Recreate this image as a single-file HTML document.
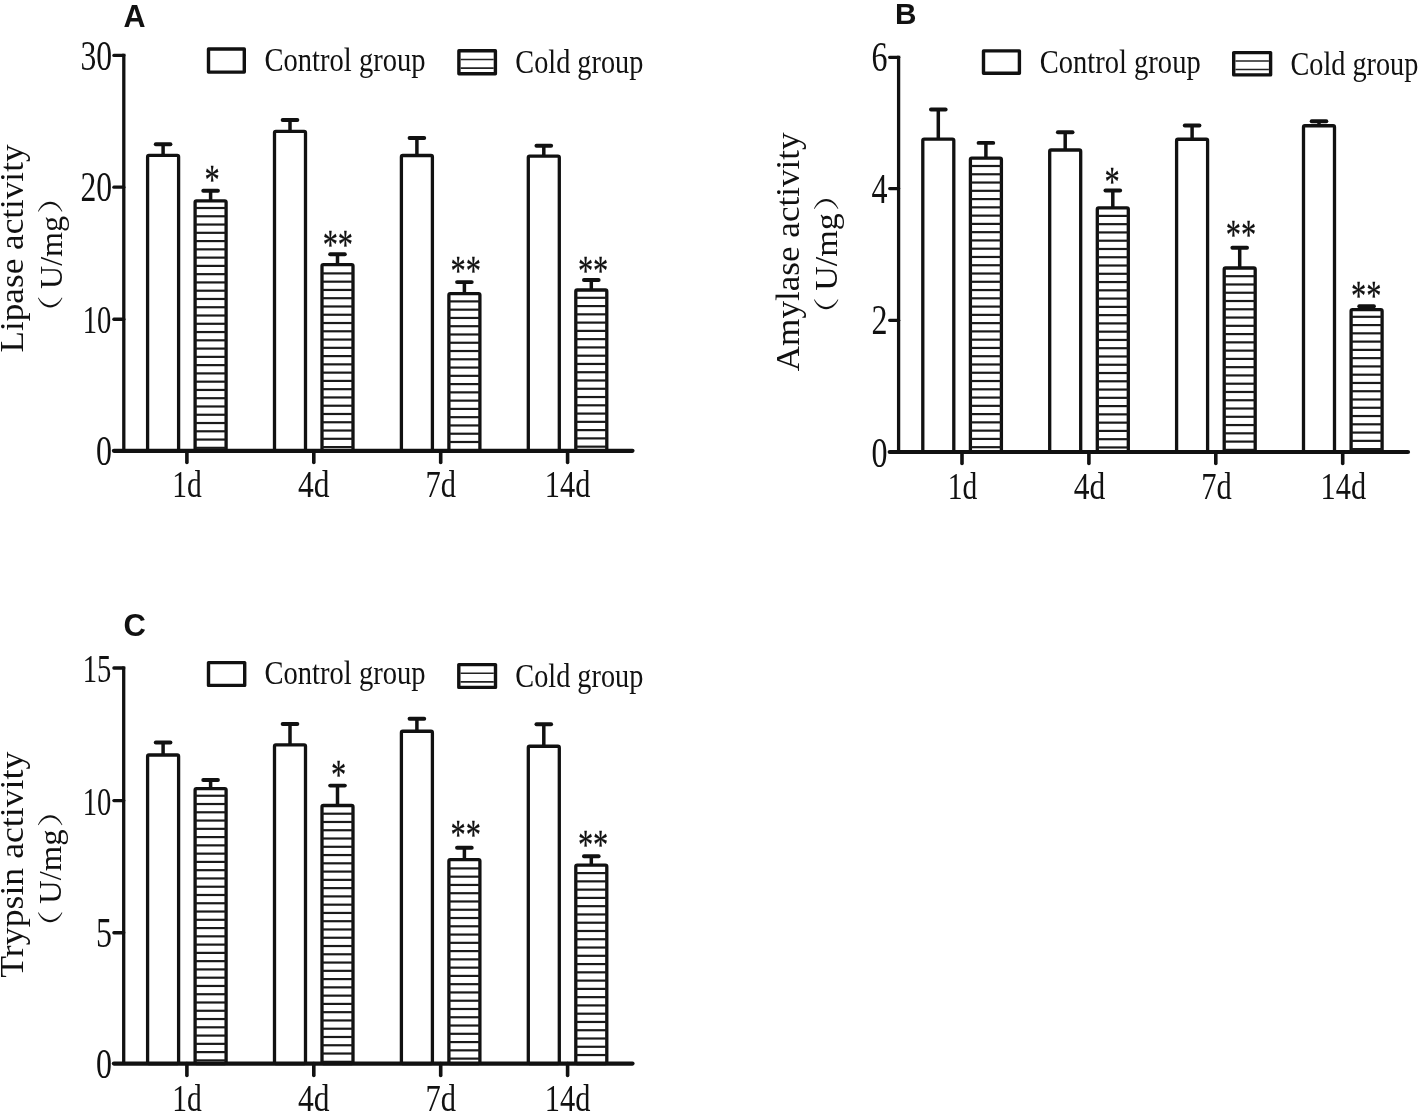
<!DOCTYPE html>
<html lang="en"><head><meta charset="utf-8"><title>Enzyme activity</title>
<style>html,body{margin:0;padding:0;background:#fff;}body{width:1418px;height:1111px;overflow:hidden;}svg{display:block;}</style>
</head><body>
<svg width="1418" height="1111" viewBox="0 0 1418 1111" font-family='"Liberation Serif", "Noto Serif CJK SC", serif' fill="#111">
<rect width="1418" height="1111" fill="#fff"/>
<g>
<line x1="163.10" y1="155.40" x2="163.10" y2="144.20" stroke="#111" stroke-width="3.5" stroke-linecap="butt"/>
<line x1="155.75" y1="144.20" x2="170.45" y2="144.20" stroke="#111" stroke-width="3.9" stroke-linecap="round"/>
<rect x="147.60" y="155.40" width="31.00" height="295.40" fill="#fff" stroke="#111" stroke-width="3.3" stroke-linejoin="round" rx="1.4"/>
<line x1="210.60" y1="200.90" x2="210.60" y2="190.70" stroke="#111" stroke-width="3.5" stroke-linecap="butt"/>
<line x1="203.25" y1="190.70" x2="217.95" y2="190.70" stroke="#111" stroke-width="3.9" stroke-linecap="round"/>
<rect x="195.10" y="200.90" width="31.00" height="249.90" fill="#fff" stroke="#111" stroke-width="3.3" stroke-linejoin="round" rx="1.4"/>
<line x1="195.10" y1="208.00" x2="226.10" y2="208.00" stroke="#1a1a1a" stroke-width="2.2" stroke-linecap="butt"/>
<line x1="195.10" y1="216.27" x2="226.10" y2="216.27" stroke="#1a1a1a" stroke-width="2.2" stroke-linecap="butt"/>
<line x1="195.10" y1="224.54" x2="226.10" y2="224.54" stroke="#1a1a1a" stroke-width="2.2" stroke-linecap="butt"/>
<line x1="195.10" y1="232.81" x2="226.10" y2="232.81" stroke="#1a1a1a" stroke-width="2.2" stroke-linecap="butt"/>
<line x1="195.10" y1="241.08" x2="226.10" y2="241.08" stroke="#1a1a1a" stroke-width="2.2" stroke-linecap="butt"/>
<line x1="195.10" y1="249.35" x2="226.10" y2="249.35" stroke="#1a1a1a" stroke-width="2.2" stroke-linecap="butt"/>
<line x1="195.10" y1="257.62" x2="226.10" y2="257.62" stroke="#1a1a1a" stroke-width="2.2" stroke-linecap="butt"/>
<line x1="195.10" y1="265.89" x2="226.10" y2="265.89" stroke="#1a1a1a" stroke-width="2.2" stroke-linecap="butt"/>
<line x1="195.10" y1="274.16" x2="226.10" y2="274.16" stroke="#1a1a1a" stroke-width="2.2" stroke-linecap="butt"/>
<line x1="195.10" y1="282.43" x2="226.10" y2="282.43" stroke="#1a1a1a" stroke-width="2.2" stroke-linecap="butt"/>
<line x1="195.10" y1="290.70" x2="226.10" y2="290.70" stroke="#1a1a1a" stroke-width="2.2" stroke-linecap="butt"/>
<line x1="195.10" y1="298.97" x2="226.10" y2="298.97" stroke="#1a1a1a" stroke-width="2.2" stroke-linecap="butt"/>
<line x1="195.10" y1="307.24" x2="226.10" y2="307.24" stroke="#1a1a1a" stroke-width="2.2" stroke-linecap="butt"/>
<line x1="195.10" y1="315.51" x2="226.10" y2="315.51" stroke="#1a1a1a" stroke-width="2.2" stroke-linecap="butt"/>
<line x1="195.10" y1="323.78" x2="226.10" y2="323.78" stroke="#1a1a1a" stroke-width="2.2" stroke-linecap="butt"/>
<line x1="195.10" y1="332.05" x2="226.10" y2="332.05" stroke="#1a1a1a" stroke-width="2.2" stroke-linecap="butt"/>
<line x1="195.10" y1="340.32" x2="226.10" y2="340.32" stroke="#1a1a1a" stroke-width="2.2" stroke-linecap="butt"/>
<line x1="195.10" y1="348.59" x2="226.10" y2="348.59" stroke="#1a1a1a" stroke-width="2.2" stroke-linecap="butt"/>
<line x1="195.10" y1="356.86" x2="226.10" y2="356.86" stroke="#1a1a1a" stroke-width="2.2" stroke-linecap="butt"/>
<line x1="195.10" y1="365.13" x2="226.10" y2="365.13" stroke="#1a1a1a" stroke-width="2.2" stroke-linecap="butt"/>
<line x1="195.10" y1="373.40" x2="226.10" y2="373.40" stroke="#1a1a1a" stroke-width="2.2" stroke-linecap="butt"/>
<line x1="195.10" y1="381.67" x2="226.10" y2="381.67" stroke="#1a1a1a" stroke-width="2.2" stroke-linecap="butt"/>
<line x1="195.10" y1="389.94" x2="226.10" y2="389.94" stroke="#1a1a1a" stroke-width="2.2" stroke-linecap="butt"/>
<line x1="195.10" y1="398.21" x2="226.10" y2="398.21" stroke="#1a1a1a" stroke-width="2.2" stroke-linecap="butt"/>
<line x1="195.10" y1="406.48" x2="226.10" y2="406.48" stroke="#1a1a1a" stroke-width="2.2" stroke-linecap="butt"/>
<line x1="195.10" y1="414.75" x2="226.10" y2="414.75" stroke="#1a1a1a" stroke-width="2.2" stroke-linecap="butt"/>
<line x1="195.10" y1="423.02" x2="226.10" y2="423.02" stroke="#1a1a1a" stroke-width="2.2" stroke-linecap="butt"/>
<line x1="195.10" y1="431.29" x2="226.10" y2="431.29" stroke="#1a1a1a" stroke-width="2.2" stroke-linecap="butt"/>
<line x1="195.10" y1="439.56" x2="226.10" y2="439.56" stroke="#1a1a1a" stroke-width="2.2" stroke-linecap="butt"/>
<line x1="195.10" y1="447.83" x2="226.10" y2="447.83" stroke="#1a1a1a" stroke-width="2.2" stroke-linecap="butt"/>
<line x1="290.00" y1="131.40" x2="290.00" y2="120.00" stroke="#111" stroke-width="3.5" stroke-linecap="butt"/>
<line x1="282.65" y1="120.00" x2="297.35" y2="120.00" stroke="#111" stroke-width="3.9" stroke-linecap="round"/>
<rect x="274.50" y="131.40" width="31.00" height="319.40" fill="#fff" stroke="#111" stroke-width="3.3" stroke-linejoin="round" rx="1.4"/>
<line x1="337.50" y1="264.60" x2="337.50" y2="254.20" stroke="#111" stroke-width="3.5" stroke-linecap="butt"/>
<line x1="330.15" y1="254.20" x2="344.85" y2="254.20" stroke="#111" stroke-width="3.9" stroke-linecap="round"/>
<rect x="322.00" y="264.60" width="31.00" height="186.20" fill="#fff" stroke="#111" stroke-width="3.3" stroke-linejoin="round" rx="1.4"/>
<line x1="322.00" y1="273.40" x2="353.00" y2="273.40" stroke="#1a1a1a" stroke-width="2.2" stroke-linecap="butt"/>
<line x1="322.00" y1="281.67" x2="353.00" y2="281.67" stroke="#1a1a1a" stroke-width="2.2" stroke-linecap="butt"/>
<line x1="322.00" y1="289.94" x2="353.00" y2="289.94" stroke="#1a1a1a" stroke-width="2.2" stroke-linecap="butt"/>
<line x1="322.00" y1="298.21" x2="353.00" y2="298.21" stroke="#1a1a1a" stroke-width="2.2" stroke-linecap="butt"/>
<line x1="322.00" y1="306.48" x2="353.00" y2="306.48" stroke="#1a1a1a" stroke-width="2.2" stroke-linecap="butt"/>
<line x1="322.00" y1="314.75" x2="353.00" y2="314.75" stroke="#1a1a1a" stroke-width="2.2" stroke-linecap="butt"/>
<line x1="322.00" y1="323.02" x2="353.00" y2="323.02" stroke="#1a1a1a" stroke-width="2.2" stroke-linecap="butt"/>
<line x1="322.00" y1="331.29" x2="353.00" y2="331.29" stroke="#1a1a1a" stroke-width="2.2" stroke-linecap="butt"/>
<line x1="322.00" y1="339.56" x2="353.00" y2="339.56" stroke="#1a1a1a" stroke-width="2.2" stroke-linecap="butt"/>
<line x1="322.00" y1="347.83" x2="353.00" y2="347.83" stroke="#1a1a1a" stroke-width="2.2" stroke-linecap="butt"/>
<line x1="322.00" y1="356.10" x2="353.00" y2="356.10" stroke="#1a1a1a" stroke-width="2.2" stroke-linecap="butt"/>
<line x1="322.00" y1="364.37" x2="353.00" y2="364.37" stroke="#1a1a1a" stroke-width="2.2" stroke-linecap="butt"/>
<line x1="322.00" y1="372.64" x2="353.00" y2="372.64" stroke="#1a1a1a" stroke-width="2.2" stroke-linecap="butt"/>
<line x1="322.00" y1="380.91" x2="353.00" y2="380.91" stroke="#1a1a1a" stroke-width="2.2" stroke-linecap="butt"/>
<line x1="322.00" y1="389.18" x2="353.00" y2="389.18" stroke="#1a1a1a" stroke-width="2.2" stroke-linecap="butt"/>
<line x1="322.00" y1="397.45" x2="353.00" y2="397.45" stroke="#1a1a1a" stroke-width="2.2" stroke-linecap="butt"/>
<line x1="322.00" y1="405.72" x2="353.00" y2="405.72" stroke="#1a1a1a" stroke-width="2.2" stroke-linecap="butt"/>
<line x1="322.00" y1="413.99" x2="353.00" y2="413.99" stroke="#1a1a1a" stroke-width="2.2" stroke-linecap="butt"/>
<line x1="322.00" y1="422.26" x2="353.00" y2="422.26" stroke="#1a1a1a" stroke-width="2.2" stroke-linecap="butt"/>
<line x1="322.00" y1="430.53" x2="353.00" y2="430.53" stroke="#1a1a1a" stroke-width="2.2" stroke-linecap="butt"/>
<line x1="322.00" y1="438.80" x2="353.00" y2="438.80" stroke="#1a1a1a" stroke-width="2.2" stroke-linecap="butt"/>
<line x1="322.00" y1="447.07" x2="353.00" y2="447.07" stroke="#1a1a1a" stroke-width="2.2" stroke-linecap="butt"/>
<line x1="416.90" y1="155.50" x2="416.90" y2="138.00" stroke="#111" stroke-width="3.5" stroke-linecap="butt"/>
<line x1="409.55" y1="138.00" x2="424.25" y2="138.00" stroke="#111" stroke-width="3.9" stroke-linecap="round"/>
<rect x="401.40" y="155.50" width="31.00" height="295.30" fill="#fff" stroke="#111" stroke-width="3.3" stroke-linejoin="round" rx="1.4"/>
<line x1="464.40" y1="293.70" x2="464.40" y2="282.10" stroke="#111" stroke-width="3.5" stroke-linecap="butt"/>
<line x1="457.05" y1="282.10" x2="471.75" y2="282.10" stroke="#111" stroke-width="3.9" stroke-linecap="round"/>
<rect x="448.90" y="293.70" width="31.00" height="157.10" fill="#fff" stroke="#111" stroke-width="3.3" stroke-linejoin="round" rx="1.4"/>
<line x1="448.90" y1="301.40" x2="479.90" y2="301.40" stroke="#1a1a1a" stroke-width="2.2" stroke-linecap="butt"/>
<line x1="448.90" y1="309.67" x2="479.90" y2="309.67" stroke="#1a1a1a" stroke-width="2.2" stroke-linecap="butt"/>
<line x1="448.90" y1="317.94" x2="479.90" y2="317.94" stroke="#1a1a1a" stroke-width="2.2" stroke-linecap="butt"/>
<line x1="448.90" y1="326.21" x2="479.90" y2="326.21" stroke="#1a1a1a" stroke-width="2.2" stroke-linecap="butt"/>
<line x1="448.90" y1="334.48" x2="479.90" y2="334.48" stroke="#1a1a1a" stroke-width="2.2" stroke-linecap="butt"/>
<line x1="448.90" y1="342.75" x2="479.90" y2="342.75" stroke="#1a1a1a" stroke-width="2.2" stroke-linecap="butt"/>
<line x1="448.90" y1="351.02" x2="479.90" y2="351.02" stroke="#1a1a1a" stroke-width="2.2" stroke-linecap="butt"/>
<line x1="448.90" y1="359.29" x2="479.90" y2="359.29" stroke="#1a1a1a" stroke-width="2.2" stroke-linecap="butt"/>
<line x1="448.90" y1="367.56" x2="479.90" y2="367.56" stroke="#1a1a1a" stroke-width="2.2" stroke-linecap="butt"/>
<line x1="448.90" y1="375.83" x2="479.90" y2="375.83" stroke="#1a1a1a" stroke-width="2.2" stroke-linecap="butt"/>
<line x1="448.90" y1="384.10" x2="479.90" y2="384.10" stroke="#1a1a1a" stroke-width="2.2" stroke-linecap="butt"/>
<line x1="448.90" y1="392.37" x2="479.90" y2="392.37" stroke="#1a1a1a" stroke-width="2.2" stroke-linecap="butt"/>
<line x1="448.90" y1="400.64" x2="479.90" y2="400.64" stroke="#1a1a1a" stroke-width="2.2" stroke-linecap="butt"/>
<line x1="448.90" y1="408.91" x2="479.90" y2="408.91" stroke="#1a1a1a" stroke-width="2.2" stroke-linecap="butt"/>
<line x1="448.90" y1="417.18" x2="479.90" y2="417.18" stroke="#1a1a1a" stroke-width="2.2" stroke-linecap="butt"/>
<line x1="448.90" y1="425.45" x2="479.90" y2="425.45" stroke="#1a1a1a" stroke-width="2.2" stroke-linecap="butt"/>
<line x1="448.90" y1="433.72" x2="479.90" y2="433.72" stroke="#1a1a1a" stroke-width="2.2" stroke-linecap="butt"/>
<line x1="448.90" y1="441.99" x2="479.90" y2="441.99" stroke="#1a1a1a" stroke-width="2.2" stroke-linecap="butt"/>
<line x1="543.80" y1="156.20" x2="543.80" y2="145.75" stroke="#111" stroke-width="3.5" stroke-linecap="butt"/>
<line x1="536.45" y1="145.75" x2="551.15" y2="145.75" stroke="#111" stroke-width="3.9" stroke-linecap="round"/>
<rect x="528.30" y="156.20" width="31.00" height="294.60" fill="#fff" stroke="#111" stroke-width="3.3" stroke-linejoin="round" rx="1.4"/>
<line x1="591.30" y1="290.00" x2="591.30" y2="280.00" stroke="#111" stroke-width="3.5" stroke-linecap="butt"/>
<line x1="583.95" y1="280.00" x2="598.65" y2="280.00" stroke="#111" stroke-width="3.9" stroke-linecap="round"/>
<rect x="575.80" y="290.00" width="31.00" height="160.80" fill="#fff" stroke="#111" stroke-width="3.3" stroke-linejoin="round" rx="1.4"/>
<line x1="575.80" y1="297.80" x2="606.80" y2="297.80" stroke="#1a1a1a" stroke-width="2.2" stroke-linecap="butt"/>
<line x1="575.80" y1="306.07" x2="606.80" y2="306.07" stroke="#1a1a1a" stroke-width="2.2" stroke-linecap="butt"/>
<line x1="575.80" y1="314.34" x2="606.80" y2="314.34" stroke="#1a1a1a" stroke-width="2.2" stroke-linecap="butt"/>
<line x1="575.80" y1="322.61" x2="606.80" y2="322.61" stroke="#1a1a1a" stroke-width="2.2" stroke-linecap="butt"/>
<line x1="575.80" y1="330.88" x2="606.80" y2="330.88" stroke="#1a1a1a" stroke-width="2.2" stroke-linecap="butt"/>
<line x1="575.80" y1="339.15" x2="606.80" y2="339.15" stroke="#1a1a1a" stroke-width="2.2" stroke-linecap="butt"/>
<line x1="575.80" y1="347.42" x2="606.80" y2="347.42" stroke="#1a1a1a" stroke-width="2.2" stroke-linecap="butt"/>
<line x1="575.80" y1="355.69" x2="606.80" y2="355.69" stroke="#1a1a1a" stroke-width="2.2" stroke-linecap="butt"/>
<line x1="575.80" y1="363.96" x2="606.80" y2="363.96" stroke="#1a1a1a" stroke-width="2.2" stroke-linecap="butt"/>
<line x1="575.80" y1="372.23" x2="606.80" y2="372.23" stroke="#1a1a1a" stroke-width="2.2" stroke-linecap="butt"/>
<line x1="575.80" y1="380.50" x2="606.80" y2="380.50" stroke="#1a1a1a" stroke-width="2.2" stroke-linecap="butt"/>
<line x1="575.80" y1="388.77" x2="606.80" y2="388.77" stroke="#1a1a1a" stroke-width="2.2" stroke-linecap="butt"/>
<line x1="575.80" y1="397.04" x2="606.80" y2="397.04" stroke="#1a1a1a" stroke-width="2.2" stroke-linecap="butt"/>
<line x1="575.80" y1="405.31" x2="606.80" y2="405.31" stroke="#1a1a1a" stroke-width="2.2" stroke-linecap="butt"/>
<line x1="575.80" y1="413.58" x2="606.80" y2="413.58" stroke="#1a1a1a" stroke-width="2.2" stroke-linecap="butt"/>
<line x1="575.80" y1="421.85" x2="606.80" y2="421.85" stroke="#1a1a1a" stroke-width="2.2" stroke-linecap="butt"/>
<line x1="575.80" y1="430.12" x2="606.80" y2="430.12" stroke="#1a1a1a" stroke-width="2.2" stroke-linecap="butt"/>
<line x1="575.80" y1="438.39" x2="606.80" y2="438.39" stroke="#1a1a1a" stroke-width="2.2" stroke-linecap="butt"/>
<line x1="575.80" y1="446.66" x2="606.80" y2="446.66" stroke="#1a1a1a" stroke-width="2.2" stroke-linecap="butt"/>
<line x1="113.90" y1="450.80" x2="632.50" y2="450.80" stroke="#111" stroke-width="4.2" stroke-linecap="round"/>
<line x1="123.80" y1="53.80" x2="123.80" y2="450.80" stroke="#111" stroke-width="3.3" stroke-linecap="butt"/>
<line x1="113.90" y1="55.40" x2="123.80" y2="55.40" stroke="#111" stroke-width="3.3" stroke-linecap="round"/>
<line x1="113.90" y1="187.20" x2="123.80" y2="187.20" stroke="#111" stroke-width="3.3" stroke-linecap="round"/>
<line x1="113.90" y1="319.25" x2="123.80" y2="319.25" stroke="#111" stroke-width="3.3" stroke-linecap="round"/>
<line x1="186.90" y1="450.80" x2="186.90" y2="462.50" stroke="#111" stroke-width="3.6" stroke-linecap="round"/>
<line x1="313.80" y1="450.80" x2="313.80" y2="462.50" stroke="#111" stroke-width="3.6" stroke-linecap="round"/>
<line x1="440.70" y1="450.80" x2="440.70" y2="462.50" stroke="#111" stroke-width="3.6" stroke-linecap="round"/>
<line x1="567.60" y1="450.80" x2="567.60" y2="462.50" stroke="#111" stroke-width="3.6" stroke-linecap="round"/>
<text x="80.50" y="69.50" font-size="41.2" text-anchor="start" textLength="31.60" lengthAdjust="spacingAndGlyphs">30</text>
<text x="80.50" y="201.30" font-size="41.2" text-anchor="start" textLength="31.60" lengthAdjust="spacingAndGlyphs">20</text>
<text x="82.80" y="333.35" font-size="41.1" text-anchor="start" textLength="28.60" lengthAdjust="spacingAndGlyphs">10</text>
<text x="96.10" y="465.30" font-size="41.2" text-anchor="start" textLength="16.00" lengthAdjust="spacingAndGlyphs">0</text>
<text x="172.15" y="497.00" font-size="38.5" text-anchor="start" textLength="29.50" lengthAdjust="spacingAndGlyphs">1d</text>
<text x="298.05" y="497.00" font-size="38.5" text-anchor="start" textLength="31.50" lengthAdjust="spacingAndGlyphs">4d</text>
<text x="425.45" y="497.00" font-size="38.5" text-anchor="start" textLength="30.50" lengthAdjust="spacingAndGlyphs">7d</text>
<text x="544.85" y="497.00" font-size="38.5" text-anchor="start" textLength="45.50" lengthAdjust="spacingAndGlyphs">14d</text>
<rect x="208.50" y="49.00" width="35.80" height="23.10" fill="#fff" stroke="#111" stroke-width="3.4" stroke-linejoin="round"/>
<text x="264.50" y="70.60" font-size="33" text-anchor="start" textLength="161.00" lengthAdjust="spacingAndGlyphs">Control group</text>
<rect x="458.90" y="50.80" width="36.50" height="22.90" fill="#fff" stroke="#111" stroke-width="3.4" stroke-linejoin="round"/>
<line x1="460.60" y1="59.49" x2="493.70" y2="59.49" stroke="#222" stroke-width="1.6" stroke-linecap="butt"/>
<line x1="460.60" y1="68.17" x2="493.70" y2="68.17" stroke="#222" stroke-width="1.6" stroke-linecap="butt"/>
<text x="515.30" y="72.80" font-size="33" text-anchor="start" textLength="128.00" lengthAdjust="spacingAndGlyphs">Cold group</text>
<text x="204.50" y="193.84" font-size="41.8" text-anchor="start" textLength="15.20" lengthAdjust="spacingAndGlyphs" stroke="#111" stroke-width="0.3">*</text>
<text x="322.65" y="259.04" font-size="41.8" text-anchor="start" textLength="30.40" lengthAdjust="spacingAndGlyphs" stroke="#111" stroke-width="0.3">**</text>
<text x="450.55" y="285.04" font-size="41.8" text-anchor="start" textLength="30.40" lengthAdjust="spacingAndGlyphs" stroke="#111" stroke-width="0.3">**</text>
<text x="577.90" y="285.04" font-size="41.8" text-anchor="start" textLength="30.40" lengthAdjust="spacingAndGlyphs" stroke="#111" stroke-width="0.3">**</text>
<text x="23.00" y="352.50" font-size="32.7" text-anchor="start" textLength="208.00" lengthAdjust="spacingAndGlyphs" transform="rotate(-90 23.00 352.50)">Lipase activity</text>
<text transform="rotate(-90 61.50 252.50)"><tspan x="-16.15" y="251.30" font-size="26" textLength="35.00" lengthAdjust="spacingAndGlyphs">（</tspan><tspan x="25.05" y="252.50" font-size="31.7" textLength="73.00" lengthAdjust="spacingAndGlyphs">U/mg</tspan><tspan x="100.05" y="251.30" font-size="26" textLength="35.00" lengthAdjust="spacingAndGlyphs">）</tspan></text>
<text x="123.60" y="26.80" font-size="30.5" text-anchor="start" font-family='"Liberation Sans", sans-serif' font-weight="bold">A</text>
</g>
<g>
<line x1="938.30" y1="139.10" x2="938.30" y2="109.50" stroke="#111" stroke-width="3.5" stroke-linecap="butt"/>
<line x1="930.95" y1="109.50" x2="945.65" y2="109.50" stroke="#111" stroke-width="3.9" stroke-linecap="round"/>
<rect x="922.80" y="139.10" width="31.00" height="312.90" fill="#fff" stroke="#111" stroke-width="3.3" stroke-linejoin="round" rx="1.4"/>
<line x1="985.90" y1="158.20" x2="985.90" y2="142.90" stroke="#111" stroke-width="3.5" stroke-linecap="butt"/>
<line x1="978.55" y1="142.90" x2="993.25" y2="142.90" stroke="#111" stroke-width="3.9" stroke-linecap="round"/>
<rect x="970.40" y="158.20" width="31.00" height="293.80" fill="#fff" stroke="#111" stroke-width="3.3" stroke-linejoin="round" rx="1.4"/>
<line x1="970.40" y1="166.00" x2="1001.40" y2="166.00" stroke="#1a1a1a" stroke-width="2.2" stroke-linecap="butt"/>
<line x1="970.40" y1="174.27" x2="1001.40" y2="174.27" stroke="#1a1a1a" stroke-width="2.2" stroke-linecap="butt"/>
<line x1="970.40" y1="182.54" x2="1001.40" y2="182.54" stroke="#1a1a1a" stroke-width="2.2" stroke-linecap="butt"/>
<line x1="970.40" y1="190.81" x2="1001.40" y2="190.81" stroke="#1a1a1a" stroke-width="2.2" stroke-linecap="butt"/>
<line x1="970.40" y1="199.08" x2="1001.40" y2="199.08" stroke="#1a1a1a" stroke-width="2.2" stroke-linecap="butt"/>
<line x1="970.40" y1="207.35" x2="1001.40" y2="207.35" stroke="#1a1a1a" stroke-width="2.2" stroke-linecap="butt"/>
<line x1="970.40" y1="215.62" x2="1001.40" y2="215.62" stroke="#1a1a1a" stroke-width="2.2" stroke-linecap="butt"/>
<line x1="970.40" y1="223.89" x2="1001.40" y2="223.89" stroke="#1a1a1a" stroke-width="2.2" stroke-linecap="butt"/>
<line x1="970.40" y1="232.16" x2="1001.40" y2="232.16" stroke="#1a1a1a" stroke-width="2.2" stroke-linecap="butt"/>
<line x1="970.40" y1="240.43" x2="1001.40" y2="240.43" stroke="#1a1a1a" stroke-width="2.2" stroke-linecap="butt"/>
<line x1="970.40" y1="248.70" x2="1001.40" y2="248.70" stroke="#1a1a1a" stroke-width="2.2" stroke-linecap="butt"/>
<line x1="970.40" y1="256.97" x2="1001.40" y2="256.97" stroke="#1a1a1a" stroke-width="2.2" stroke-linecap="butt"/>
<line x1="970.40" y1="265.24" x2="1001.40" y2="265.24" stroke="#1a1a1a" stroke-width="2.2" stroke-linecap="butt"/>
<line x1="970.40" y1="273.51" x2="1001.40" y2="273.51" stroke="#1a1a1a" stroke-width="2.2" stroke-linecap="butt"/>
<line x1="970.40" y1="281.78" x2="1001.40" y2="281.78" stroke="#1a1a1a" stroke-width="2.2" stroke-linecap="butt"/>
<line x1="970.40" y1="290.05" x2="1001.40" y2="290.05" stroke="#1a1a1a" stroke-width="2.2" stroke-linecap="butt"/>
<line x1="970.40" y1="298.32" x2="1001.40" y2="298.32" stroke="#1a1a1a" stroke-width="2.2" stroke-linecap="butt"/>
<line x1="970.40" y1="306.59" x2="1001.40" y2="306.59" stroke="#1a1a1a" stroke-width="2.2" stroke-linecap="butt"/>
<line x1="970.40" y1="314.86" x2="1001.40" y2="314.86" stroke="#1a1a1a" stroke-width="2.2" stroke-linecap="butt"/>
<line x1="970.40" y1="323.13" x2="1001.40" y2="323.13" stroke="#1a1a1a" stroke-width="2.2" stroke-linecap="butt"/>
<line x1="970.40" y1="331.40" x2="1001.40" y2="331.40" stroke="#1a1a1a" stroke-width="2.2" stroke-linecap="butt"/>
<line x1="970.40" y1="339.67" x2="1001.40" y2="339.67" stroke="#1a1a1a" stroke-width="2.2" stroke-linecap="butt"/>
<line x1="970.40" y1="347.94" x2="1001.40" y2="347.94" stroke="#1a1a1a" stroke-width="2.2" stroke-linecap="butt"/>
<line x1="970.40" y1="356.21" x2="1001.40" y2="356.21" stroke="#1a1a1a" stroke-width="2.2" stroke-linecap="butt"/>
<line x1="970.40" y1="364.48" x2="1001.40" y2="364.48" stroke="#1a1a1a" stroke-width="2.2" stroke-linecap="butt"/>
<line x1="970.40" y1="372.75" x2="1001.40" y2="372.75" stroke="#1a1a1a" stroke-width="2.2" stroke-linecap="butt"/>
<line x1="970.40" y1="381.02" x2="1001.40" y2="381.02" stroke="#1a1a1a" stroke-width="2.2" stroke-linecap="butt"/>
<line x1="970.40" y1="389.29" x2="1001.40" y2="389.29" stroke="#1a1a1a" stroke-width="2.2" stroke-linecap="butt"/>
<line x1="970.40" y1="397.56" x2="1001.40" y2="397.56" stroke="#1a1a1a" stroke-width="2.2" stroke-linecap="butt"/>
<line x1="970.40" y1="405.83" x2="1001.40" y2="405.83" stroke="#1a1a1a" stroke-width="2.2" stroke-linecap="butt"/>
<line x1="970.40" y1="414.10" x2="1001.40" y2="414.10" stroke="#1a1a1a" stroke-width="2.2" stroke-linecap="butt"/>
<line x1="970.40" y1="422.37" x2="1001.40" y2="422.37" stroke="#1a1a1a" stroke-width="2.2" stroke-linecap="butt"/>
<line x1="970.40" y1="430.64" x2="1001.40" y2="430.64" stroke="#1a1a1a" stroke-width="2.2" stroke-linecap="butt"/>
<line x1="970.40" y1="438.91" x2="1001.40" y2="438.91" stroke="#1a1a1a" stroke-width="2.2" stroke-linecap="butt"/>
<line x1="970.40" y1="447.18" x2="1001.40" y2="447.18" stroke="#1a1a1a" stroke-width="2.2" stroke-linecap="butt"/>
<line x1="1065.20" y1="150.00" x2="1065.20" y2="132.30" stroke="#111" stroke-width="3.5" stroke-linecap="butt"/>
<line x1="1057.85" y1="132.30" x2="1072.55" y2="132.30" stroke="#111" stroke-width="3.9" stroke-linecap="round"/>
<rect x="1049.70" y="150.00" width="31.00" height="302.00" fill="#fff" stroke="#111" stroke-width="3.3" stroke-linejoin="round" rx="1.4"/>
<line x1="1112.80" y1="207.80" x2="1112.80" y2="190.50" stroke="#111" stroke-width="3.5" stroke-linecap="butt"/>
<line x1="1105.45" y1="190.50" x2="1120.15" y2="190.50" stroke="#111" stroke-width="3.9" stroke-linecap="round"/>
<rect x="1097.30" y="207.80" width="31.00" height="244.20" fill="#fff" stroke="#111" stroke-width="3.3" stroke-linejoin="round" rx="1.4"/>
<line x1="1097.30" y1="215.90" x2="1128.30" y2="215.90" stroke="#1a1a1a" stroke-width="2.2" stroke-linecap="butt"/>
<line x1="1097.30" y1="224.17" x2="1128.30" y2="224.17" stroke="#1a1a1a" stroke-width="2.2" stroke-linecap="butt"/>
<line x1="1097.30" y1="232.44" x2="1128.30" y2="232.44" stroke="#1a1a1a" stroke-width="2.2" stroke-linecap="butt"/>
<line x1="1097.30" y1="240.71" x2="1128.30" y2="240.71" stroke="#1a1a1a" stroke-width="2.2" stroke-linecap="butt"/>
<line x1="1097.30" y1="248.98" x2="1128.30" y2="248.98" stroke="#1a1a1a" stroke-width="2.2" stroke-linecap="butt"/>
<line x1="1097.30" y1="257.25" x2="1128.30" y2="257.25" stroke="#1a1a1a" stroke-width="2.2" stroke-linecap="butt"/>
<line x1="1097.30" y1="265.52" x2="1128.30" y2="265.52" stroke="#1a1a1a" stroke-width="2.2" stroke-linecap="butt"/>
<line x1="1097.30" y1="273.79" x2="1128.30" y2="273.79" stroke="#1a1a1a" stroke-width="2.2" stroke-linecap="butt"/>
<line x1="1097.30" y1="282.06" x2="1128.30" y2="282.06" stroke="#1a1a1a" stroke-width="2.2" stroke-linecap="butt"/>
<line x1="1097.30" y1="290.33" x2="1128.30" y2="290.33" stroke="#1a1a1a" stroke-width="2.2" stroke-linecap="butt"/>
<line x1="1097.30" y1="298.60" x2="1128.30" y2="298.60" stroke="#1a1a1a" stroke-width="2.2" stroke-linecap="butt"/>
<line x1="1097.30" y1="306.87" x2="1128.30" y2="306.87" stroke="#1a1a1a" stroke-width="2.2" stroke-linecap="butt"/>
<line x1="1097.30" y1="315.14" x2="1128.30" y2="315.14" stroke="#1a1a1a" stroke-width="2.2" stroke-linecap="butt"/>
<line x1="1097.30" y1="323.41" x2="1128.30" y2="323.41" stroke="#1a1a1a" stroke-width="2.2" stroke-linecap="butt"/>
<line x1="1097.30" y1="331.68" x2="1128.30" y2="331.68" stroke="#1a1a1a" stroke-width="2.2" stroke-linecap="butt"/>
<line x1="1097.30" y1="339.95" x2="1128.30" y2="339.95" stroke="#1a1a1a" stroke-width="2.2" stroke-linecap="butt"/>
<line x1="1097.30" y1="348.22" x2="1128.30" y2="348.22" stroke="#1a1a1a" stroke-width="2.2" stroke-linecap="butt"/>
<line x1="1097.30" y1="356.49" x2="1128.30" y2="356.49" stroke="#1a1a1a" stroke-width="2.2" stroke-linecap="butt"/>
<line x1="1097.30" y1="364.76" x2="1128.30" y2="364.76" stroke="#1a1a1a" stroke-width="2.2" stroke-linecap="butt"/>
<line x1="1097.30" y1="373.03" x2="1128.30" y2="373.03" stroke="#1a1a1a" stroke-width="2.2" stroke-linecap="butt"/>
<line x1="1097.30" y1="381.30" x2="1128.30" y2="381.30" stroke="#1a1a1a" stroke-width="2.2" stroke-linecap="butt"/>
<line x1="1097.30" y1="389.57" x2="1128.30" y2="389.57" stroke="#1a1a1a" stroke-width="2.2" stroke-linecap="butt"/>
<line x1="1097.30" y1="397.84" x2="1128.30" y2="397.84" stroke="#1a1a1a" stroke-width="2.2" stroke-linecap="butt"/>
<line x1="1097.30" y1="406.11" x2="1128.30" y2="406.11" stroke="#1a1a1a" stroke-width="2.2" stroke-linecap="butt"/>
<line x1="1097.30" y1="414.38" x2="1128.30" y2="414.38" stroke="#1a1a1a" stroke-width="2.2" stroke-linecap="butt"/>
<line x1="1097.30" y1="422.65" x2="1128.30" y2="422.65" stroke="#1a1a1a" stroke-width="2.2" stroke-linecap="butt"/>
<line x1="1097.30" y1="430.92" x2="1128.30" y2="430.92" stroke="#1a1a1a" stroke-width="2.2" stroke-linecap="butt"/>
<line x1="1097.30" y1="439.19" x2="1128.30" y2="439.19" stroke="#1a1a1a" stroke-width="2.2" stroke-linecap="butt"/>
<line x1="1097.30" y1="447.46" x2="1128.30" y2="447.46" stroke="#1a1a1a" stroke-width="2.2" stroke-linecap="butt"/>
<line x1="1192.10" y1="139.25" x2="1192.10" y2="125.50" stroke="#111" stroke-width="3.5" stroke-linecap="butt"/>
<line x1="1184.75" y1="125.50" x2="1199.45" y2="125.50" stroke="#111" stroke-width="3.9" stroke-linecap="round"/>
<rect x="1176.60" y="139.25" width="31.00" height="312.75" fill="#fff" stroke="#111" stroke-width="3.3" stroke-linejoin="round" rx="1.4"/>
<line x1="1239.70" y1="268.00" x2="1239.70" y2="247.70" stroke="#111" stroke-width="3.5" stroke-linecap="butt"/>
<line x1="1232.35" y1="247.70" x2="1247.05" y2="247.70" stroke="#111" stroke-width="3.9" stroke-linecap="round"/>
<rect x="1224.20" y="268.00" width="31.00" height="184.00" fill="#fff" stroke="#111" stroke-width="3.3" stroke-linejoin="round" rx="1.4"/>
<line x1="1224.20" y1="276.20" x2="1255.20" y2="276.20" stroke="#1a1a1a" stroke-width="2.2" stroke-linecap="butt"/>
<line x1="1224.20" y1="284.47" x2="1255.20" y2="284.47" stroke="#1a1a1a" stroke-width="2.2" stroke-linecap="butt"/>
<line x1="1224.20" y1="292.74" x2="1255.20" y2="292.74" stroke="#1a1a1a" stroke-width="2.2" stroke-linecap="butt"/>
<line x1="1224.20" y1="301.01" x2="1255.20" y2="301.01" stroke="#1a1a1a" stroke-width="2.2" stroke-linecap="butt"/>
<line x1="1224.20" y1="309.28" x2="1255.20" y2="309.28" stroke="#1a1a1a" stroke-width="2.2" stroke-linecap="butt"/>
<line x1="1224.20" y1="317.55" x2="1255.20" y2="317.55" stroke="#1a1a1a" stroke-width="2.2" stroke-linecap="butt"/>
<line x1="1224.20" y1="325.82" x2="1255.20" y2="325.82" stroke="#1a1a1a" stroke-width="2.2" stroke-linecap="butt"/>
<line x1="1224.20" y1="334.09" x2="1255.20" y2="334.09" stroke="#1a1a1a" stroke-width="2.2" stroke-linecap="butt"/>
<line x1="1224.20" y1="342.36" x2="1255.20" y2="342.36" stroke="#1a1a1a" stroke-width="2.2" stroke-linecap="butt"/>
<line x1="1224.20" y1="350.63" x2="1255.20" y2="350.63" stroke="#1a1a1a" stroke-width="2.2" stroke-linecap="butt"/>
<line x1="1224.20" y1="358.90" x2="1255.20" y2="358.90" stroke="#1a1a1a" stroke-width="2.2" stroke-linecap="butt"/>
<line x1="1224.20" y1="367.17" x2="1255.20" y2="367.17" stroke="#1a1a1a" stroke-width="2.2" stroke-linecap="butt"/>
<line x1="1224.20" y1="375.44" x2="1255.20" y2="375.44" stroke="#1a1a1a" stroke-width="2.2" stroke-linecap="butt"/>
<line x1="1224.20" y1="383.71" x2="1255.20" y2="383.71" stroke="#1a1a1a" stroke-width="2.2" stroke-linecap="butt"/>
<line x1="1224.20" y1="391.98" x2="1255.20" y2="391.98" stroke="#1a1a1a" stroke-width="2.2" stroke-linecap="butt"/>
<line x1="1224.20" y1="400.25" x2="1255.20" y2="400.25" stroke="#1a1a1a" stroke-width="2.2" stroke-linecap="butt"/>
<line x1="1224.20" y1="408.52" x2="1255.20" y2="408.52" stroke="#1a1a1a" stroke-width="2.2" stroke-linecap="butt"/>
<line x1="1224.20" y1="416.79" x2="1255.20" y2="416.79" stroke="#1a1a1a" stroke-width="2.2" stroke-linecap="butt"/>
<line x1="1224.20" y1="425.06" x2="1255.20" y2="425.06" stroke="#1a1a1a" stroke-width="2.2" stroke-linecap="butt"/>
<line x1="1224.20" y1="433.33" x2="1255.20" y2="433.33" stroke="#1a1a1a" stroke-width="2.2" stroke-linecap="butt"/>
<line x1="1224.20" y1="441.60" x2="1255.20" y2="441.60" stroke="#1a1a1a" stroke-width="2.2" stroke-linecap="butt"/>
<line x1="1224.20" y1="449.87" x2="1255.20" y2="449.87" stroke="#1a1a1a" stroke-width="2.2" stroke-linecap="butt"/>
<line x1="1319.00" y1="125.75" x2="1319.00" y2="121.25" stroke="#111" stroke-width="3.5" stroke-linecap="butt"/>
<line x1="1311.65" y1="121.25" x2="1326.35" y2="121.25" stroke="#111" stroke-width="3.9" stroke-linecap="round"/>
<rect x="1303.50" y="125.75" width="31.00" height="326.25" fill="#fff" stroke="#111" stroke-width="3.3" stroke-linejoin="round" rx="1.4"/>
<line x1="1366.60" y1="309.60" x2="1366.60" y2="306.30" stroke="#111" stroke-width="3.5" stroke-linecap="butt"/>
<line x1="1359.25" y1="306.30" x2="1373.95" y2="306.30" stroke="#111" stroke-width="3.9" stroke-linecap="round"/>
<rect x="1351.10" y="309.60" width="31.00" height="142.40" fill="#fff" stroke="#111" stroke-width="3.3" stroke-linejoin="round" rx="1.4"/>
<line x1="1351.10" y1="316.80" x2="1382.10" y2="316.80" stroke="#1a1a1a" stroke-width="2.2" stroke-linecap="butt"/>
<line x1="1351.10" y1="325.07" x2="1382.10" y2="325.07" stroke="#1a1a1a" stroke-width="2.2" stroke-linecap="butt"/>
<line x1="1351.10" y1="333.34" x2="1382.10" y2="333.34" stroke="#1a1a1a" stroke-width="2.2" stroke-linecap="butt"/>
<line x1="1351.10" y1="341.61" x2="1382.10" y2="341.61" stroke="#1a1a1a" stroke-width="2.2" stroke-linecap="butt"/>
<line x1="1351.10" y1="349.88" x2="1382.10" y2="349.88" stroke="#1a1a1a" stroke-width="2.2" stroke-linecap="butt"/>
<line x1="1351.10" y1="358.15" x2="1382.10" y2="358.15" stroke="#1a1a1a" stroke-width="2.2" stroke-linecap="butt"/>
<line x1="1351.10" y1="366.42" x2="1382.10" y2="366.42" stroke="#1a1a1a" stroke-width="2.2" stroke-linecap="butt"/>
<line x1="1351.10" y1="374.69" x2="1382.10" y2="374.69" stroke="#1a1a1a" stroke-width="2.2" stroke-linecap="butt"/>
<line x1="1351.10" y1="382.96" x2="1382.10" y2="382.96" stroke="#1a1a1a" stroke-width="2.2" stroke-linecap="butt"/>
<line x1="1351.10" y1="391.23" x2="1382.10" y2="391.23" stroke="#1a1a1a" stroke-width="2.2" stroke-linecap="butt"/>
<line x1="1351.10" y1="399.50" x2="1382.10" y2="399.50" stroke="#1a1a1a" stroke-width="2.2" stroke-linecap="butt"/>
<line x1="1351.10" y1="407.77" x2="1382.10" y2="407.77" stroke="#1a1a1a" stroke-width="2.2" stroke-linecap="butt"/>
<line x1="1351.10" y1="416.04" x2="1382.10" y2="416.04" stroke="#1a1a1a" stroke-width="2.2" stroke-linecap="butt"/>
<line x1="1351.10" y1="424.31" x2="1382.10" y2="424.31" stroke="#1a1a1a" stroke-width="2.2" stroke-linecap="butt"/>
<line x1="1351.10" y1="432.58" x2="1382.10" y2="432.58" stroke="#1a1a1a" stroke-width="2.2" stroke-linecap="butt"/>
<line x1="1351.10" y1="440.85" x2="1382.10" y2="440.85" stroke="#1a1a1a" stroke-width="2.2" stroke-linecap="butt"/>
<line x1="1351.10" y1="449.12" x2="1382.10" y2="449.12" stroke="#1a1a1a" stroke-width="2.2" stroke-linecap="butt"/>
<line x1="889.70" y1="452.00" x2="1408.00" y2="452.00" stroke="#111" stroke-width="4.2" stroke-linecap="round"/>
<line x1="898.60" y1="55.70" x2="898.60" y2="452.00" stroke="#111" stroke-width="3.3" stroke-linecap="butt"/>
<line x1="889.70" y1="57.30" x2="898.60" y2="57.30" stroke="#111" stroke-width="3.3" stroke-linecap="round"/>
<line x1="889.70" y1="188.60" x2="898.60" y2="188.60" stroke="#111" stroke-width="3.3" stroke-linecap="round"/>
<line x1="889.70" y1="320.30" x2="898.60" y2="320.30" stroke="#111" stroke-width="3.3" stroke-linecap="round"/>
<line x1="962.00" y1="452.00" x2="962.00" y2="463.50" stroke="#111" stroke-width="3.6" stroke-linecap="round"/>
<line x1="1088.90" y1="452.00" x2="1088.90" y2="463.50" stroke="#111" stroke-width="3.6" stroke-linecap="round"/>
<line x1="1215.80" y1="452.00" x2="1215.80" y2="463.50" stroke="#111" stroke-width="3.6" stroke-linecap="round"/>
<line x1="1342.70" y1="452.00" x2="1342.70" y2="463.50" stroke="#111" stroke-width="3.6" stroke-linecap="round"/>
<text x="871.40" y="71.40" font-size="41.2" text-anchor="start" textLength="16.00" lengthAdjust="spacingAndGlyphs">6</text>
<text x="871.40" y="202.70" font-size="41.2" text-anchor="start" textLength="16.00" lengthAdjust="spacingAndGlyphs">4</text>
<text x="871.40" y="334.40" font-size="41.2" text-anchor="start" textLength="16.00" lengthAdjust="spacingAndGlyphs">2</text>
<text x="871.40" y="466.50" font-size="41.2" text-anchor="start" textLength="16.00" lengthAdjust="spacingAndGlyphs">0</text>
<text x="947.85" y="499.00" font-size="38.5" text-anchor="start" textLength="29.50" lengthAdjust="spacingAndGlyphs">1d</text>
<text x="1073.75" y="499.00" font-size="38.5" text-anchor="start" textLength="31.50" lengthAdjust="spacingAndGlyphs">4d</text>
<text x="1201.15" y="499.00" font-size="38.5" text-anchor="start" textLength="30.50" lengthAdjust="spacingAndGlyphs">7d</text>
<text x="1320.55" y="499.00" font-size="38.5" text-anchor="start" textLength="45.50" lengthAdjust="spacingAndGlyphs">14d</text>
<rect x="983.50" y="50.90" width="35.90" height="22.40" fill="#fff" stroke="#111" stroke-width="3.4" stroke-linejoin="round"/>
<text x="1039.70" y="73.00" font-size="33" text-anchor="start" textLength="161.00" lengthAdjust="spacingAndGlyphs">Control group</text>
<rect x="1233.70" y="52.60" width="36.90" height="22.30" fill="#fff" stroke="#111" stroke-width="3.4" stroke-linejoin="round"/>
<line x1="1235.40" y1="61.05" x2="1268.90" y2="61.05" stroke="#222" stroke-width="1.6" stroke-linecap="butt"/>
<line x1="1235.40" y1="69.53" x2="1268.90" y2="69.53" stroke="#222" stroke-width="1.6" stroke-linecap="butt"/>
<text x="1290.40" y="75.00" font-size="33" text-anchor="start" textLength="128.00" lengthAdjust="spacingAndGlyphs">Cold group</text>
<text x="1104.45" y="195.94" font-size="41.8" text-anchor="start" textLength="15.20" lengthAdjust="spacingAndGlyphs" stroke="#111" stroke-width="0.3">*</text>
<text x="1225.80" y="249.24" font-size="41.8" text-anchor="start" textLength="30.40" lengthAdjust="spacingAndGlyphs" stroke="#111" stroke-width="0.3">**</text>
<text x="1351.05" y="310.44" font-size="41.8" text-anchor="start" textLength="30.40" lengthAdjust="spacingAndGlyphs" stroke="#111" stroke-width="0.3">**</text>
<text x="799.20" y="371.30" font-size="32.7" text-anchor="start" textLength="239.00" lengthAdjust="spacingAndGlyphs" transform="rotate(-90 799.20 371.30)">Amylase activity</text>
<text transform="rotate(-90 837.50 252.10)"><tspan x="757.60" y="250.90" font-size="26" textLength="35.00" lengthAdjust="spacingAndGlyphs">（</tspan><tspan x="798.80" y="252.10" font-size="31.7" textLength="77.50" lengthAdjust="spacingAndGlyphs">U/mg</tspan><tspan x="878.30" y="250.90" font-size="26" textLength="35.00" lengthAdjust="spacingAndGlyphs">）</tspan></text>
<text x="894.90" y="24.30" font-size="29.7" text-anchor="start" font-family='"Liberation Sans", sans-serif' font-weight="bold">B</text>
</g>
<g>
<line x1="163.10" y1="755.00" x2="163.10" y2="742.50" stroke="#111" stroke-width="3.5" stroke-linecap="butt"/>
<line x1="155.75" y1="742.50" x2="170.45" y2="742.50" stroke="#111" stroke-width="3.9" stroke-linecap="round"/>
<rect x="147.60" y="755.00" width="31.00" height="308.60" fill="#fff" stroke="#111" stroke-width="3.3" stroke-linejoin="round" rx="1.4"/>
<line x1="210.60" y1="788.60" x2="210.60" y2="780.00" stroke="#111" stroke-width="3.5" stroke-linecap="butt"/>
<line x1="203.25" y1="780.00" x2="217.95" y2="780.00" stroke="#111" stroke-width="3.9" stroke-linecap="round"/>
<rect x="195.10" y="788.60" width="31.00" height="275.00" fill="#fff" stroke="#111" stroke-width="3.3" stroke-linejoin="round" rx="1.4"/>
<line x1="195.10" y1="795.75" x2="226.10" y2="795.75" stroke="#1a1a1a" stroke-width="2.2" stroke-linecap="butt"/>
<line x1="195.10" y1="804.02" x2="226.10" y2="804.02" stroke="#1a1a1a" stroke-width="2.2" stroke-linecap="butt"/>
<line x1="195.10" y1="812.29" x2="226.10" y2="812.29" stroke="#1a1a1a" stroke-width="2.2" stroke-linecap="butt"/>
<line x1="195.10" y1="820.56" x2="226.10" y2="820.56" stroke="#1a1a1a" stroke-width="2.2" stroke-linecap="butt"/>
<line x1="195.10" y1="828.83" x2="226.10" y2="828.83" stroke="#1a1a1a" stroke-width="2.2" stroke-linecap="butt"/>
<line x1="195.10" y1="837.10" x2="226.10" y2="837.10" stroke="#1a1a1a" stroke-width="2.2" stroke-linecap="butt"/>
<line x1="195.10" y1="845.37" x2="226.10" y2="845.37" stroke="#1a1a1a" stroke-width="2.2" stroke-linecap="butt"/>
<line x1="195.10" y1="853.64" x2="226.10" y2="853.64" stroke="#1a1a1a" stroke-width="2.2" stroke-linecap="butt"/>
<line x1="195.10" y1="861.91" x2="226.10" y2="861.91" stroke="#1a1a1a" stroke-width="2.2" stroke-linecap="butt"/>
<line x1="195.10" y1="870.18" x2="226.10" y2="870.18" stroke="#1a1a1a" stroke-width="2.2" stroke-linecap="butt"/>
<line x1="195.10" y1="878.45" x2="226.10" y2="878.45" stroke="#1a1a1a" stroke-width="2.2" stroke-linecap="butt"/>
<line x1="195.10" y1="886.72" x2="226.10" y2="886.72" stroke="#1a1a1a" stroke-width="2.2" stroke-linecap="butt"/>
<line x1="195.10" y1="894.99" x2="226.10" y2="894.99" stroke="#1a1a1a" stroke-width="2.2" stroke-linecap="butt"/>
<line x1="195.10" y1="903.26" x2="226.10" y2="903.26" stroke="#1a1a1a" stroke-width="2.2" stroke-linecap="butt"/>
<line x1="195.10" y1="911.53" x2="226.10" y2="911.53" stroke="#1a1a1a" stroke-width="2.2" stroke-linecap="butt"/>
<line x1="195.10" y1="919.80" x2="226.10" y2="919.80" stroke="#1a1a1a" stroke-width="2.2" stroke-linecap="butt"/>
<line x1="195.10" y1="928.07" x2="226.10" y2="928.07" stroke="#1a1a1a" stroke-width="2.2" stroke-linecap="butt"/>
<line x1="195.10" y1="936.34" x2="226.10" y2="936.34" stroke="#1a1a1a" stroke-width="2.2" stroke-linecap="butt"/>
<line x1="195.10" y1="944.61" x2="226.10" y2="944.61" stroke="#1a1a1a" stroke-width="2.2" stroke-linecap="butt"/>
<line x1="195.10" y1="952.88" x2="226.10" y2="952.88" stroke="#1a1a1a" stroke-width="2.2" stroke-linecap="butt"/>
<line x1="195.10" y1="961.15" x2="226.10" y2="961.15" stroke="#1a1a1a" stroke-width="2.2" stroke-linecap="butt"/>
<line x1="195.10" y1="969.42" x2="226.10" y2="969.42" stroke="#1a1a1a" stroke-width="2.2" stroke-linecap="butt"/>
<line x1="195.10" y1="977.69" x2="226.10" y2="977.69" stroke="#1a1a1a" stroke-width="2.2" stroke-linecap="butt"/>
<line x1="195.10" y1="985.96" x2="226.10" y2="985.96" stroke="#1a1a1a" stroke-width="2.2" stroke-linecap="butt"/>
<line x1="195.10" y1="994.23" x2="226.10" y2="994.23" stroke="#1a1a1a" stroke-width="2.2" stroke-linecap="butt"/>
<line x1="195.10" y1="1002.50" x2="226.10" y2="1002.50" stroke="#1a1a1a" stroke-width="2.2" stroke-linecap="butt"/>
<line x1="195.10" y1="1010.77" x2="226.10" y2="1010.77" stroke="#1a1a1a" stroke-width="2.2" stroke-linecap="butt"/>
<line x1="195.10" y1="1019.04" x2="226.10" y2="1019.04" stroke="#1a1a1a" stroke-width="2.2" stroke-linecap="butt"/>
<line x1="195.10" y1="1027.31" x2="226.10" y2="1027.31" stroke="#1a1a1a" stroke-width="2.2" stroke-linecap="butt"/>
<line x1="195.10" y1="1035.58" x2="226.10" y2="1035.58" stroke="#1a1a1a" stroke-width="2.2" stroke-linecap="butt"/>
<line x1="195.10" y1="1043.85" x2="226.10" y2="1043.85" stroke="#1a1a1a" stroke-width="2.2" stroke-linecap="butt"/>
<line x1="195.10" y1="1052.12" x2="226.10" y2="1052.12" stroke="#1a1a1a" stroke-width="2.2" stroke-linecap="butt"/>
<line x1="195.10" y1="1060.39" x2="226.10" y2="1060.39" stroke="#1a1a1a" stroke-width="2.2" stroke-linecap="butt"/>
<line x1="290.00" y1="744.90" x2="290.00" y2="724.00" stroke="#111" stroke-width="3.5" stroke-linecap="butt"/>
<line x1="282.65" y1="724.00" x2="297.35" y2="724.00" stroke="#111" stroke-width="3.9" stroke-linecap="round"/>
<rect x="274.50" y="744.90" width="31.00" height="318.70" fill="#fff" stroke="#111" stroke-width="3.3" stroke-linejoin="round" rx="1.4"/>
<line x1="337.50" y1="805.50" x2="337.50" y2="785.60" stroke="#111" stroke-width="3.5" stroke-linecap="butt"/>
<line x1="330.15" y1="785.60" x2="344.85" y2="785.60" stroke="#111" stroke-width="3.9" stroke-linecap="round"/>
<rect x="322.00" y="805.50" width="31.00" height="258.10" fill="#fff" stroke="#111" stroke-width="3.3" stroke-linejoin="round" rx="1.4"/>
<line x1="322.00" y1="813.70" x2="353.00" y2="813.70" stroke="#1a1a1a" stroke-width="2.2" stroke-linecap="butt"/>
<line x1="322.00" y1="821.97" x2="353.00" y2="821.97" stroke="#1a1a1a" stroke-width="2.2" stroke-linecap="butt"/>
<line x1="322.00" y1="830.24" x2="353.00" y2="830.24" stroke="#1a1a1a" stroke-width="2.2" stroke-linecap="butt"/>
<line x1="322.00" y1="838.51" x2="353.00" y2="838.51" stroke="#1a1a1a" stroke-width="2.2" stroke-linecap="butt"/>
<line x1="322.00" y1="846.78" x2="353.00" y2="846.78" stroke="#1a1a1a" stroke-width="2.2" stroke-linecap="butt"/>
<line x1="322.00" y1="855.05" x2="353.00" y2="855.05" stroke="#1a1a1a" stroke-width="2.2" stroke-linecap="butt"/>
<line x1="322.00" y1="863.32" x2="353.00" y2="863.32" stroke="#1a1a1a" stroke-width="2.2" stroke-linecap="butt"/>
<line x1="322.00" y1="871.59" x2="353.00" y2="871.59" stroke="#1a1a1a" stroke-width="2.2" stroke-linecap="butt"/>
<line x1="322.00" y1="879.86" x2="353.00" y2="879.86" stroke="#1a1a1a" stroke-width="2.2" stroke-linecap="butt"/>
<line x1="322.00" y1="888.13" x2="353.00" y2="888.13" stroke="#1a1a1a" stroke-width="2.2" stroke-linecap="butt"/>
<line x1="322.00" y1="896.40" x2="353.00" y2="896.40" stroke="#1a1a1a" stroke-width="2.2" stroke-linecap="butt"/>
<line x1="322.00" y1="904.67" x2="353.00" y2="904.67" stroke="#1a1a1a" stroke-width="2.2" stroke-linecap="butt"/>
<line x1="322.00" y1="912.94" x2="353.00" y2="912.94" stroke="#1a1a1a" stroke-width="2.2" stroke-linecap="butt"/>
<line x1="322.00" y1="921.21" x2="353.00" y2="921.21" stroke="#1a1a1a" stroke-width="2.2" stroke-linecap="butt"/>
<line x1="322.00" y1="929.48" x2="353.00" y2="929.48" stroke="#1a1a1a" stroke-width="2.2" stroke-linecap="butt"/>
<line x1="322.00" y1="937.75" x2="353.00" y2="937.75" stroke="#1a1a1a" stroke-width="2.2" stroke-linecap="butt"/>
<line x1="322.00" y1="946.02" x2="353.00" y2="946.02" stroke="#1a1a1a" stroke-width="2.2" stroke-linecap="butt"/>
<line x1="322.00" y1="954.29" x2="353.00" y2="954.29" stroke="#1a1a1a" stroke-width="2.2" stroke-linecap="butt"/>
<line x1="322.00" y1="962.56" x2="353.00" y2="962.56" stroke="#1a1a1a" stroke-width="2.2" stroke-linecap="butt"/>
<line x1="322.00" y1="970.83" x2="353.00" y2="970.83" stroke="#1a1a1a" stroke-width="2.2" stroke-linecap="butt"/>
<line x1="322.00" y1="979.10" x2="353.00" y2="979.10" stroke="#1a1a1a" stroke-width="2.2" stroke-linecap="butt"/>
<line x1="322.00" y1="987.37" x2="353.00" y2="987.37" stroke="#1a1a1a" stroke-width="2.2" stroke-linecap="butt"/>
<line x1="322.00" y1="995.64" x2="353.00" y2="995.64" stroke="#1a1a1a" stroke-width="2.2" stroke-linecap="butt"/>
<line x1="322.00" y1="1003.91" x2="353.00" y2="1003.91" stroke="#1a1a1a" stroke-width="2.2" stroke-linecap="butt"/>
<line x1="322.00" y1="1012.18" x2="353.00" y2="1012.18" stroke="#1a1a1a" stroke-width="2.2" stroke-linecap="butt"/>
<line x1="322.00" y1="1020.45" x2="353.00" y2="1020.45" stroke="#1a1a1a" stroke-width="2.2" stroke-linecap="butt"/>
<line x1="322.00" y1="1028.72" x2="353.00" y2="1028.72" stroke="#1a1a1a" stroke-width="2.2" stroke-linecap="butt"/>
<line x1="322.00" y1="1036.99" x2="353.00" y2="1036.99" stroke="#1a1a1a" stroke-width="2.2" stroke-linecap="butt"/>
<line x1="322.00" y1="1045.26" x2="353.00" y2="1045.26" stroke="#1a1a1a" stroke-width="2.2" stroke-linecap="butt"/>
<line x1="322.00" y1="1053.53" x2="353.00" y2="1053.53" stroke="#1a1a1a" stroke-width="2.2" stroke-linecap="butt"/>
<line x1="322.00" y1="1061.80" x2="353.00" y2="1061.80" stroke="#1a1a1a" stroke-width="2.2" stroke-linecap="butt"/>
<line x1="416.90" y1="731.25" x2="416.90" y2="718.75" stroke="#111" stroke-width="3.5" stroke-linecap="butt"/>
<line x1="409.55" y1="718.75" x2="424.25" y2="718.75" stroke="#111" stroke-width="3.9" stroke-linecap="round"/>
<rect x="401.40" y="731.25" width="31.00" height="332.35" fill="#fff" stroke="#111" stroke-width="3.3" stroke-linejoin="round" rx="1.4"/>
<line x1="464.40" y1="859.60" x2="464.40" y2="847.80" stroke="#111" stroke-width="3.5" stroke-linecap="butt"/>
<line x1="457.05" y1="847.80" x2="471.75" y2="847.80" stroke="#111" stroke-width="3.9" stroke-linecap="round"/>
<rect x="448.90" y="859.60" width="31.00" height="204.00" fill="#fff" stroke="#111" stroke-width="3.3" stroke-linejoin="round" rx="1.4"/>
<line x1="448.90" y1="868.40" x2="479.90" y2="868.40" stroke="#1a1a1a" stroke-width="2.2" stroke-linecap="butt"/>
<line x1="448.90" y1="876.67" x2="479.90" y2="876.67" stroke="#1a1a1a" stroke-width="2.2" stroke-linecap="butt"/>
<line x1="448.90" y1="884.94" x2="479.90" y2="884.94" stroke="#1a1a1a" stroke-width="2.2" stroke-linecap="butt"/>
<line x1="448.90" y1="893.21" x2="479.90" y2="893.21" stroke="#1a1a1a" stroke-width="2.2" stroke-linecap="butt"/>
<line x1="448.90" y1="901.48" x2="479.90" y2="901.48" stroke="#1a1a1a" stroke-width="2.2" stroke-linecap="butt"/>
<line x1="448.90" y1="909.75" x2="479.90" y2="909.75" stroke="#1a1a1a" stroke-width="2.2" stroke-linecap="butt"/>
<line x1="448.90" y1="918.02" x2="479.90" y2="918.02" stroke="#1a1a1a" stroke-width="2.2" stroke-linecap="butt"/>
<line x1="448.90" y1="926.29" x2="479.90" y2="926.29" stroke="#1a1a1a" stroke-width="2.2" stroke-linecap="butt"/>
<line x1="448.90" y1="934.56" x2="479.90" y2="934.56" stroke="#1a1a1a" stroke-width="2.2" stroke-linecap="butt"/>
<line x1="448.90" y1="942.83" x2="479.90" y2="942.83" stroke="#1a1a1a" stroke-width="2.2" stroke-linecap="butt"/>
<line x1="448.90" y1="951.10" x2="479.90" y2="951.10" stroke="#1a1a1a" stroke-width="2.2" stroke-linecap="butt"/>
<line x1="448.90" y1="959.37" x2="479.90" y2="959.37" stroke="#1a1a1a" stroke-width="2.2" stroke-linecap="butt"/>
<line x1="448.90" y1="967.64" x2="479.90" y2="967.64" stroke="#1a1a1a" stroke-width="2.2" stroke-linecap="butt"/>
<line x1="448.90" y1="975.91" x2="479.90" y2="975.91" stroke="#1a1a1a" stroke-width="2.2" stroke-linecap="butt"/>
<line x1="448.90" y1="984.18" x2="479.90" y2="984.18" stroke="#1a1a1a" stroke-width="2.2" stroke-linecap="butt"/>
<line x1="448.90" y1="992.45" x2="479.90" y2="992.45" stroke="#1a1a1a" stroke-width="2.2" stroke-linecap="butt"/>
<line x1="448.90" y1="1000.72" x2="479.90" y2="1000.72" stroke="#1a1a1a" stroke-width="2.2" stroke-linecap="butt"/>
<line x1="448.90" y1="1008.99" x2="479.90" y2="1008.99" stroke="#1a1a1a" stroke-width="2.2" stroke-linecap="butt"/>
<line x1="448.90" y1="1017.26" x2="479.90" y2="1017.26" stroke="#1a1a1a" stroke-width="2.2" stroke-linecap="butt"/>
<line x1="448.90" y1="1025.53" x2="479.90" y2="1025.53" stroke="#1a1a1a" stroke-width="2.2" stroke-linecap="butt"/>
<line x1="448.90" y1="1033.80" x2="479.90" y2="1033.80" stroke="#1a1a1a" stroke-width="2.2" stroke-linecap="butt"/>
<line x1="448.90" y1="1042.07" x2="479.90" y2="1042.07" stroke="#1a1a1a" stroke-width="2.2" stroke-linecap="butt"/>
<line x1="448.90" y1="1050.34" x2="479.90" y2="1050.34" stroke="#1a1a1a" stroke-width="2.2" stroke-linecap="butt"/>
<line x1="448.90" y1="1058.61" x2="479.90" y2="1058.61" stroke="#1a1a1a" stroke-width="2.2" stroke-linecap="butt"/>
<line x1="543.80" y1="746.25" x2="543.80" y2="724.25" stroke="#111" stroke-width="3.5" stroke-linecap="butt"/>
<line x1="536.45" y1="724.25" x2="551.15" y2="724.25" stroke="#111" stroke-width="3.9" stroke-linecap="round"/>
<rect x="528.30" y="746.25" width="31.00" height="317.35" fill="#fff" stroke="#111" stroke-width="3.3" stroke-linejoin="round" rx="1.4"/>
<line x1="591.30" y1="865.20" x2="591.30" y2="856.20" stroke="#111" stroke-width="3.5" stroke-linecap="butt"/>
<line x1="583.95" y1="856.20" x2="598.65" y2="856.20" stroke="#111" stroke-width="3.9" stroke-linecap="round"/>
<rect x="575.80" y="865.20" width="31.00" height="198.40" fill="#fff" stroke="#111" stroke-width="3.3" stroke-linejoin="round" rx="1.4"/>
<line x1="575.80" y1="873.10" x2="606.80" y2="873.10" stroke="#1a1a1a" stroke-width="2.2" stroke-linecap="butt"/>
<line x1="575.80" y1="881.37" x2="606.80" y2="881.37" stroke="#1a1a1a" stroke-width="2.2" stroke-linecap="butt"/>
<line x1="575.80" y1="889.64" x2="606.80" y2="889.64" stroke="#1a1a1a" stroke-width="2.2" stroke-linecap="butt"/>
<line x1="575.80" y1="897.91" x2="606.80" y2="897.91" stroke="#1a1a1a" stroke-width="2.2" stroke-linecap="butt"/>
<line x1="575.80" y1="906.18" x2="606.80" y2="906.18" stroke="#1a1a1a" stroke-width="2.2" stroke-linecap="butt"/>
<line x1="575.80" y1="914.45" x2="606.80" y2="914.45" stroke="#1a1a1a" stroke-width="2.2" stroke-linecap="butt"/>
<line x1="575.80" y1="922.72" x2="606.80" y2="922.72" stroke="#1a1a1a" stroke-width="2.2" stroke-linecap="butt"/>
<line x1="575.80" y1="930.99" x2="606.80" y2="930.99" stroke="#1a1a1a" stroke-width="2.2" stroke-linecap="butt"/>
<line x1="575.80" y1="939.26" x2="606.80" y2="939.26" stroke="#1a1a1a" stroke-width="2.2" stroke-linecap="butt"/>
<line x1="575.80" y1="947.53" x2="606.80" y2="947.53" stroke="#1a1a1a" stroke-width="2.2" stroke-linecap="butt"/>
<line x1="575.80" y1="955.80" x2="606.80" y2="955.80" stroke="#1a1a1a" stroke-width="2.2" stroke-linecap="butt"/>
<line x1="575.80" y1="964.07" x2="606.80" y2="964.07" stroke="#1a1a1a" stroke-width="2.2" stroke-linecap="butt"/>
<line x1="575.80" y1="972.34" x2="606.80" y2="972.34" stroke="#1a1a1a" stroke-width="2.2" stroke-linecap="butt"/>
<line x1="575.80" y1="980.61" x2="606.80" y2="980.61" stroke="#1a1a1a" stroke-width="2.2" stroke-linecap="butt"/>
<line x1="575.80" y1="988.88" x2="606.80" y2="988.88" stroke="#1a1a1a" stroke-width="2.2" stroke-linecap="butt"/>
<line x1="575.80" y1="997.15" x2="606.80" y2="997.15" stroke="#1a1a1a" stroke-width="2.2" stroke-linecap="butt"/>
<line x1="575.80" y1="1005.42" x2="606.80" y2="1005.42" stroke="#1a1a1a" stroke-width="2.2" stroke-linecap="butt"/>
<line x1="575.80" y1="1013.69" x2="606.80" y2="1013.69" stroke="#1a1a1a" stroke-width="2.2" stroke-linecap="butt"/>
<line x1="575.80" y1="1021.96" x2="606.80" y2="1021.96" stroke="#1a1a1a" stroke-width="2.2" stroke-linecap="butt"/>
<line x1="575.80" y1="1030.23" x2="606.80" y2="1030.23" stroke="#1a1a1a" stroke-width="2.2" stroke-linecap="butt"/>
<line x1="575.80" y1="1038.50" x2="606.80" y2="1038.50" stroke="#1a1a1a" stroke-width="2.2" stroke-linecap="butt"/>
<line x1="575.80" y1="1046.77" x2="606.80" y2="1046.77" stroke="#1a1a1a" stroke-width="2.2" stroke-linecap="butt"/>
<line x1="575.80" y1="1055.04" x2="606.80" y2="1055.04" stroke="#1a1a1a" stroke-width="2.2" stroke-linecap="butt"/>
<line x1="113.90" y1="1063.60" x2="632.50" y2="1063.60" stroke="#111" stroke-width="4.2" stroke-linecap="round"/>
<line x1="123.70" y1="666.40" x2="123.70" y2="1063.60" stroke="#111" stroke-width="3.3" stroke-linecap="butt"/>
<line x1="113.90" y1="668.00" x2="123.70" y2="668.00" stroke="#111" stroke-width="3.3" stroke-linecap="round"/>
<line x1="113.90" y1="800.60" x2="123.70" y2="800.60" stroke="#111" stroke-width="3.3" stroke-linecap="round"/>
<line x1="113.90" y1="932.75" x2="123.70" y2="932.75" stroke="#111" stroke-width="3.3" stroke-linecap="round"/>
<line x1="186.90" y1="1063.60" x2="186.90" y2="1075.50" stroke="#111" stroke-width="3.6" stroke-linecap="round"/>
<line x1="313.80" y1="1063.60" x2="313.80" y2="1075.50" stroke="#111" stroke-width="3.6" stroke-linecap="round"/>
<line x1="440.70" y1="1063.60" x2="440.70" y2="1075.50" stroke="#111" stroke-width="3.6" stroke-linecap="round"/>
<line x1="567.60" y1="1063.60" x2="567.60" y2="1075.50" stroke="#111" stroke-width="3.6" stroke-linecap="round"/>
<text x="82.80" y="682.10" font-size="41.1" text-anchor="start" textLength="28.60" lengthAdjust="spacingAndGlyphs">15</text>
<text x="82.80" y="814.70" font-size="41.1" text-anchor="start" textLength="28.60" lengthAdjust="spacingAndGlyphs">10</text>
<text x="96.10" y="946.85" font-size="41.2" text-anchor="start" textLength="16.00" lengthAdjust="spacingAndGlyphs">5</text>
<text x="96.10" y="1078.10" font-size="41.2" text-anchor="start" textLength="16.00" lengthAdjust="spacingAndGlyphs">0</text>
<text x="172.15" y="1111.00" font-size="38.5" text-anchor="start" textLength="29.50" lengthAdjust="spacingAndGlyphs">1d</text>
<text x="298.05" y="1111.00" font-size="38.5" text-anchor="start" textLength="31.50" lengthAdjust="spacingAndGlyphs">4d</text>
<text x="425.45" y="1111.00" font-size="38.5" text-anchor="start" textLength="30.50" lengthAdjust="spacingAndGlyphs">7d</text>
<text x="544.85" y="1111.00" font-size="38.5" text-anchor="start" textLength="45.50" lengthAdjust="spacingAndGlyphs">14d</text>
<rect x="208.50" y="662.60" width="36.20" height="22.80" fill="#fff" stroke="#111" stroke-width="3.4" stroke-linejoin="round"/>
<text x="264.50" y="684.25" font-size="33" text-anchor="start" textLength="161.00" lengthAdjust="spacingAndGlyphs">Control group</text>
<rect x="458.80" y="664.60" width="36.70" height="22.80" fill="#fff" stroke="#111" stroke-width="3.4" stroke-linejoin="round"/>
<line x1="460.50" y1="673.25" x2="493.80" y2="673.25" stroke="#222" stroke-width="1.6" stroke-linecap="butt"/>
<line x1="460.50" y1="681.89" x2="493.80" y2="681.89" stroke="#222" stroke-width="1.6" stroke-linecap="butt"/>
<text x="515.30" y="686.75" font-size="33" text-anchor="start" textLength="128.00" lengthAdjust="spacingAndGlyphs">Cold group</text>
<text x="330.90" y="789.44" font-size="41.8" text-anchor="start" textLength="15.20" lengthAdjust="spacingAndGlyphs" stroke="#111" stroke-width="0.3">*</text>
<text x="450.55" y="848.84" font-size="41.8" text-anchor="start" textLength="30.40" lengthAdjust="spacingAndGlyphs" stroke="#111" stroke-width="0.3">**</text>
<text x="577.90" y="858.64" font-size="41.8" text-anchor="start" textLength="30.40" lengthAdjust="spacingAndGlyphs" stroke="#111" stroke-width="0.3">**</text>
<text x="23.00" y="977.70" font-size="32.7" text-anchor="start" textLength="226.00" lengthAdjust="spacingAndGlyphs" transform="rotate(-90 23.00 977.70)">Trypsin activity</text>
<text transform="rotate(-90 61.50 866.70)"><tspan x="-16.90" y="865.50" font-size="26" textLength="35.00" lengthAdjust="spacingAndGlyphs">（</tspan><tspan x="24.30" y="866.70" font-size="31.7" textLength="74.50" lengthAdjust="spacingAndGlyphs">U/mg</tspan><tspan x="100.80" y="865.50" font-size="26" textLength="35.00" lengthAdjust="spacingAndGlyphs">）</tspan></text>
<text x="123.40" y="635.60" font-size="31" text-anchor="start" font-family='"Liberation Sans", sans-serif' font-weight="bold">C</text>
</g>
</svg>
</body></html>
